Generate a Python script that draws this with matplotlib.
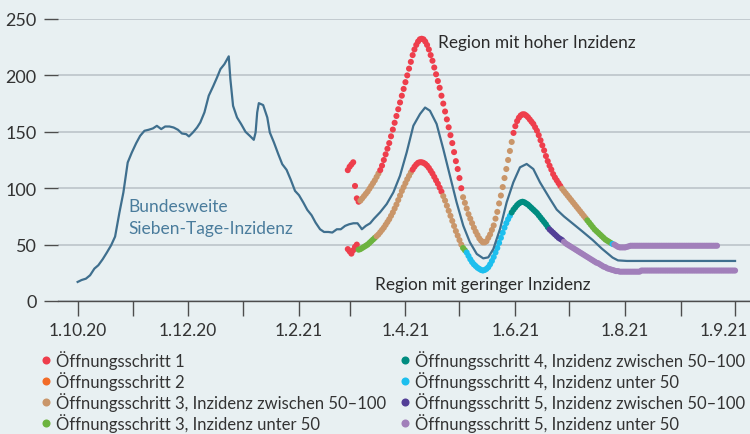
import numpy as np
import pandas as pd
import matplotlib as mpl
mpl.use("Agg")
from matplotlib import pyplot as plt
from matplotlib.lines import Line2D
from matplotlib.transforms import ScaledTranslation

plt.rcParams['font.family'] = ['Lato', 'DejaVu Sans']

# x values are days since 1.10.2020
start = pd.Timestamp("2020-10-01")

# national 7-day incidence (historical + projection)
blue_days = [0, 2.2, 4.6, 6.9, 9.3, 11.5, 13.9, 16.2, 18.6, 20.8, 23.2, 25.4, 27.8, 30.1,
             32.5, 34.7, 37.1, 39.4, 41.8, 44, 46.4, 48.6, 51, 53.3, 55.7, 57.9, 60.3, 61.8,
             64, 66.3, 68.1, 70.4, 72.8, 75.2, 77.4, 79.3, 81.5, 83.9, 84.8, 86.3, 88.5, 90.8,
             93.2, 95.6, 97.8, 98.8, 99.7, 100.6, 103, 105.3, 106.7, 109, 111.4, 113.6, 116,
             118.2, 120.7, 122.9, 125.3, 127.5, 129.9, 132.1, 134.6, 136.8, 139.2, 141.4,
             143.9, 146.1, 148.5, 150.7, 153.1, 155.4, 157.2, 157.8, 160, 162.4, 164.5,
             167.9, 171.6, 175.3, 179, 182.7, 186.4, 190.1, 192.9, 195.6, 199.3, 203, 206.7,
             210.4, 214.1, 217.8, 221.6, 225.2, 228, 230.8, 234.5, 238.2, 241.9, 245.6,
             249.3, 253, 256.7, 262.3, 266, 270, 275, 280, 286, 291, 297, 300, 305, 365]
blue_vals = [16.9, 18.6, 19.8, 22.8, 28.7, 31.7, 37, 42.9, 49.4, 57.1, 78.4, 96.2, 122.8, 131.7,
             139.9, 146.4, 150.9, 151.8, 153, 155.3, 152.4, 154.7, 154.7, 153.8, 151.8, 148.5,
             147.9, 145.9, 149.4, 153.8, 158.3, 167.2, 182, 190.2, 198.2, 205.6, 210, 216.9,
             196.7, 173, 162.7, 156.8, 150, 146.4, 142.9, 149.4, 167.2, 175.4, 173.7, 162.7,
             149.4, 140.5, 130.2, 121.3, 116.3, 108, 97.6, 93.8, 87.3, 80.8, 76, 69.5, 63.6,
             61.2, 61.2, 60.7, 63.6, 63.6, 66.6, 68, 68.9, 68.9, 65.1, 63.6, 66.6, 68.9, 72.9,
             78.6, 86, 96.3, 111.1, 131.8, 155.4, 165.8, 171.5, 168.7, 157, 134.8, 111.1,
             87.5, 66.8, 52, 41.7, 37.8, 38.7, 46.1, 63.8, 87.5, 105.2, 118.5, 121.5, 117,
             105.2, 90.4, 81, 75, 68.5, 62, 54, 46.5, 38.5, 36, 35.5, 35.5]

# modelled regions, one value per day from day 150
dot_start = 150
high_vals = [116, 119, 121, 123, 102, 91, 88,
             89, 91, 93, 95, 97, 99.5, 102, 104.5, 107, 110, 113,
             116, 120, 125, 130, 135, 140, 146, 152, 158, 164, 170, 176, 182, 188, 194, 200,
             206, 212, 218, 223, 227, 230, 232, 232.5, 232, 230, 227, 223, 218, 213, 207, 201,
             195, 189, 182, 175, 168, 161, 154, 147, 140, 132, 124, 117, 109, 100,
             92, 87, 82, 77, 73, 69, 65, 61.5, 58.5, 55.5, 53.5, 52, 52, 53, 56, 59, 63, 67,
             73, 79, 86.5, 93.5, 101, 109, 117, 125, 133, 141,
             149, 155, 159.5, 162.5, 164.5, 165.5, 165.5, 164.5, 163, 161, 159, 157, 154, 151,
             147, 142.5, 138, 133.5, 128.5, 124, 120, 116.5, 112.5, 109.5, 107, 104.5, 102,
             99.5, 97.5, 95.5, 93.5, 91.5, 89.5, 87.5, 85.5, 83.5, 81.5, 79.5, 77.5, 75.5, 73.5,
             71.5, 69.5, 67.5, 65.5, 63.5, 62, 60.5, 59, 57.5, 56, 54.5, 53.5, 52.5, 51.5,
             50.5,
             50, 49, 48, 47.5, 47.5, 47.5, 47.5, 48, 48.5, 49,
             49, 49, 49, 49, 49, 49, 49, 49, 49, 49, 49, 49, 49, 49, 49, 49, 49, 49, 49, 49,
             49, 49, 49, 49, 49, 49, 49, 49, 49, 49, 49, 49, 49, 49, 49, 49, 49, 49, 49, 49,
             49, 49, 49, 49, 49, 49, 49, 49]
low_vals = [46, 44, 42, 45, 48, 50,
            45.5, 46, 47, 48, 49, 50, 51.5, 53, 54.5, 56,
            57.5, 59, 61, 63, 65, 67.5, 70, 72.5, 75.5, 78.5, 82, 85.5, 89.5, 93.5, 97.5, 101,
            104.5, 108, 111, 114,
            116.5, 119, 121, 122.5, 123, 123, 122.5, 121.5, 120, 118, 115.5, 113, 110, 107,
            104, 100.5, 97,
            93, 89, 84.5, 80, 75.5, 71, 66.5, 62, 58, 54, 50,
            47, 45,
            43, 40, 37, 34.5, 32.5, 31, 29.5, 28.5, 27.5, 27, 27.5, 28.5, 30, 32.5, 35.5, 39,
            43, 47, 51.5, 56, 60.5, 65, 69, 72.5, 75.5,
            78.5, 81, 83, 85, 86.5, 87.5, 88, 87.5, 86.5, 85.5, 84, 82.5, 81, 79.5, 78, 76, 74,
            72, 70, 68, 65.5,
            63.5, 62, 60.5, 59, 57.5, 56, 55, 54,
            52.5, 51, 50, 49, 48, 47, 46, 45, 44, 43, 42, 41, 40, 39, 38, 37, 36, 35, 34, 33.5,
            32.5, 31.5, 30.5, 30, 29, 28.5, 28, 27.5, 27, 26.5, 26.5,
            26, 26, 26, 26, 26, 26, 26, 26, 26, 26, 26, 26,
            27, 27, 27, 27, 27, 27, 27, 27, 27, 27, 27, 27, 27, 27, 27, 27, 27, 27, 27, 27,
            27, 27, 27, 27, 27, 27, 27, 27, 27, 27, 27, 27, 27, 27, 27, 27, 27, 27, 27, 27,
            27, 27, 27, 27, 27, 27, 27, 27, 27, 27, 27, 27, 27]

# (first day, phase) for each coloured stretch
high_phases = [(150, "1"), (157, "3a"), (168, "1"), (214, "3a"), (242, "1"), (269, "3a"),
               (283, "3b"), (297, "4b"), (298, "5b")]
low_phases = [(150, "1"), (156, "3b"), (166, "3a"), (186, "1"), (203, "3a"), (214, "3b"),
              (216, "4b"), (241, "4a"), (262, "5a"), (270, "5b")]

phase_keys = ["1", "2", "3a", "3b", "4a", "4b", "5a", "5b"]
phase_labels = ["Öffnungsschritt 1", "Öffnungsschritt 2",
                "Öffnungsschritt 3, Inzidenz zwischen 50–100", "Öffnungsschritt 3, Inzidenz unter 50",
                "Öffnungsschritt 4, Inzidenz zwischen 50–100", "Öffnungsschritt 4, Inzidenz unter 50",
                "Öffnungsschritt 5, Inzidenz zwischen 50–100", "Öffnungsschritt 5, Inzidenz unter 50"]
phase_colors = {"1": "#ee3e4c", "2": "#f26c28", "3a": "#c9966a", "3b": "#6cb33f",
                "4a": "#008c80", "4b": "#1dbfee", "5a": "#533f97", "5b": "#a17fba"}

x_labels = ["1.10.20", "", "1.12.20", "", "1.2.21", "", "1.4.21", "", "1.6.21", "",
            "1.8.21", "", "1.9.21"]

bg = "#e8f0f2"
W, H = 750, 435


def fx(px):
    return px / W


def fy(py):
    return 1 - py / H


def phase_of(day, phases):
    cur = phases[0][1]
    for d0, p in phases:
        if day >= d0:
            cur = p
    return cur


fig = plt.figure(figsize=(W / 100, H / 100), dpi=100, facecolor=bg)
ax = fig.add_axes([fx(58), fy(302), fx(750) - fx(58), fy(20) - fy(302)])
ax.set_facecolor(bg)

for vals, phases in [(high_vals, high_phases), (low_vals, low_phases)]:
    days = np.arange(dot_start, dot_start + len(vals))
    cols = [phase_colors[phase_of(d, phases)] for d in days]
    ax.scatter(days, vals, s=19, c=cols, linewidths=0, zorder=3)

ax.plot(blue_days, blue_vals, color="#3f6f8e", lw=1.6, zorder=4, solid_joinstyle="round")

ax.set_xlim(-10.9, 373.3)
ax.set_ylim(0, 250)

months = pd.date_range("2020-10-01", "2021-10-01", freq="MS")
ax.set_xticks([(m - start).days for m in months])
ax.set_xticklabels(x_labels)
ax.set_yticks([0, 50, 100, 150, 200, 250])
ax.yaxis.grid(True, color="#b9c0c6", lw=1.1)
ax.set_axisbelow(True)
for s in ["top", "right", "left"]:
    ax.spines[s].set_visible(False)
ax.spines["bottom"].set_color("#4d4d4d")
ax.spines["bottom"].set_linewidth(1.0)
ax.tick_params(axis="y", length=10.3, width=1.0, color="#4d4d4d", pad=5,
               labelsize=13, labelcolor="#333333")
ax.tick_params(axis="x", length=10.8, width=1.0, color="#4d4d4d", pad=4,
               labelsize=12.5, labelcolor="#333333")
# last label sits a bit to the left so it stays inside the picture
last = ax.get_xticklabels()[-1]
last.set_transform(last.get_transform() + ScaledTranslation(-11 / 100, 0, fig.dpi_scale_trans))

# annotations
fig.text(fx(128), fy(207), "Bundesweite", color="#4a7c9c", fontsize=12.5, va="center")
fig.text(fx(128), fy(229), "Sieben-Tage-Inzidenz", color="#4a7c9c", fontsize=12.5, va="center")
fig.text(fx(438), fy(43), "Region mit hoher Inzidenz", color="#2b2b2b", fontsize=12.4, va="center")
fig.text(fx(375), fy(285), "Region mit geringer Inzidenz", color="#2b2b2b", fontsize=12.4,
         va="center")

# legend, two columns
rows_y = [361, 382, 403, 424]
for i, (key, lab) in enumerate(zip(phase_keys, phase_labels)):
    col, row = divmod(i, 4)
    mx = [46, 405][col]
    y = rows_y[row]
    fig.add_artist(Line2D([fx(mx)], [fy(y)], marker="o", ms=5.8, mew=0,
                          color=phase_colors[key], transform=fig.transFigure))
    fig.text(fx(mx + 10), fy(y), lab, fontsize=12, color="#333333", va="center")

fig.savefig("out.png", dpi=100, facecolor=bg)
